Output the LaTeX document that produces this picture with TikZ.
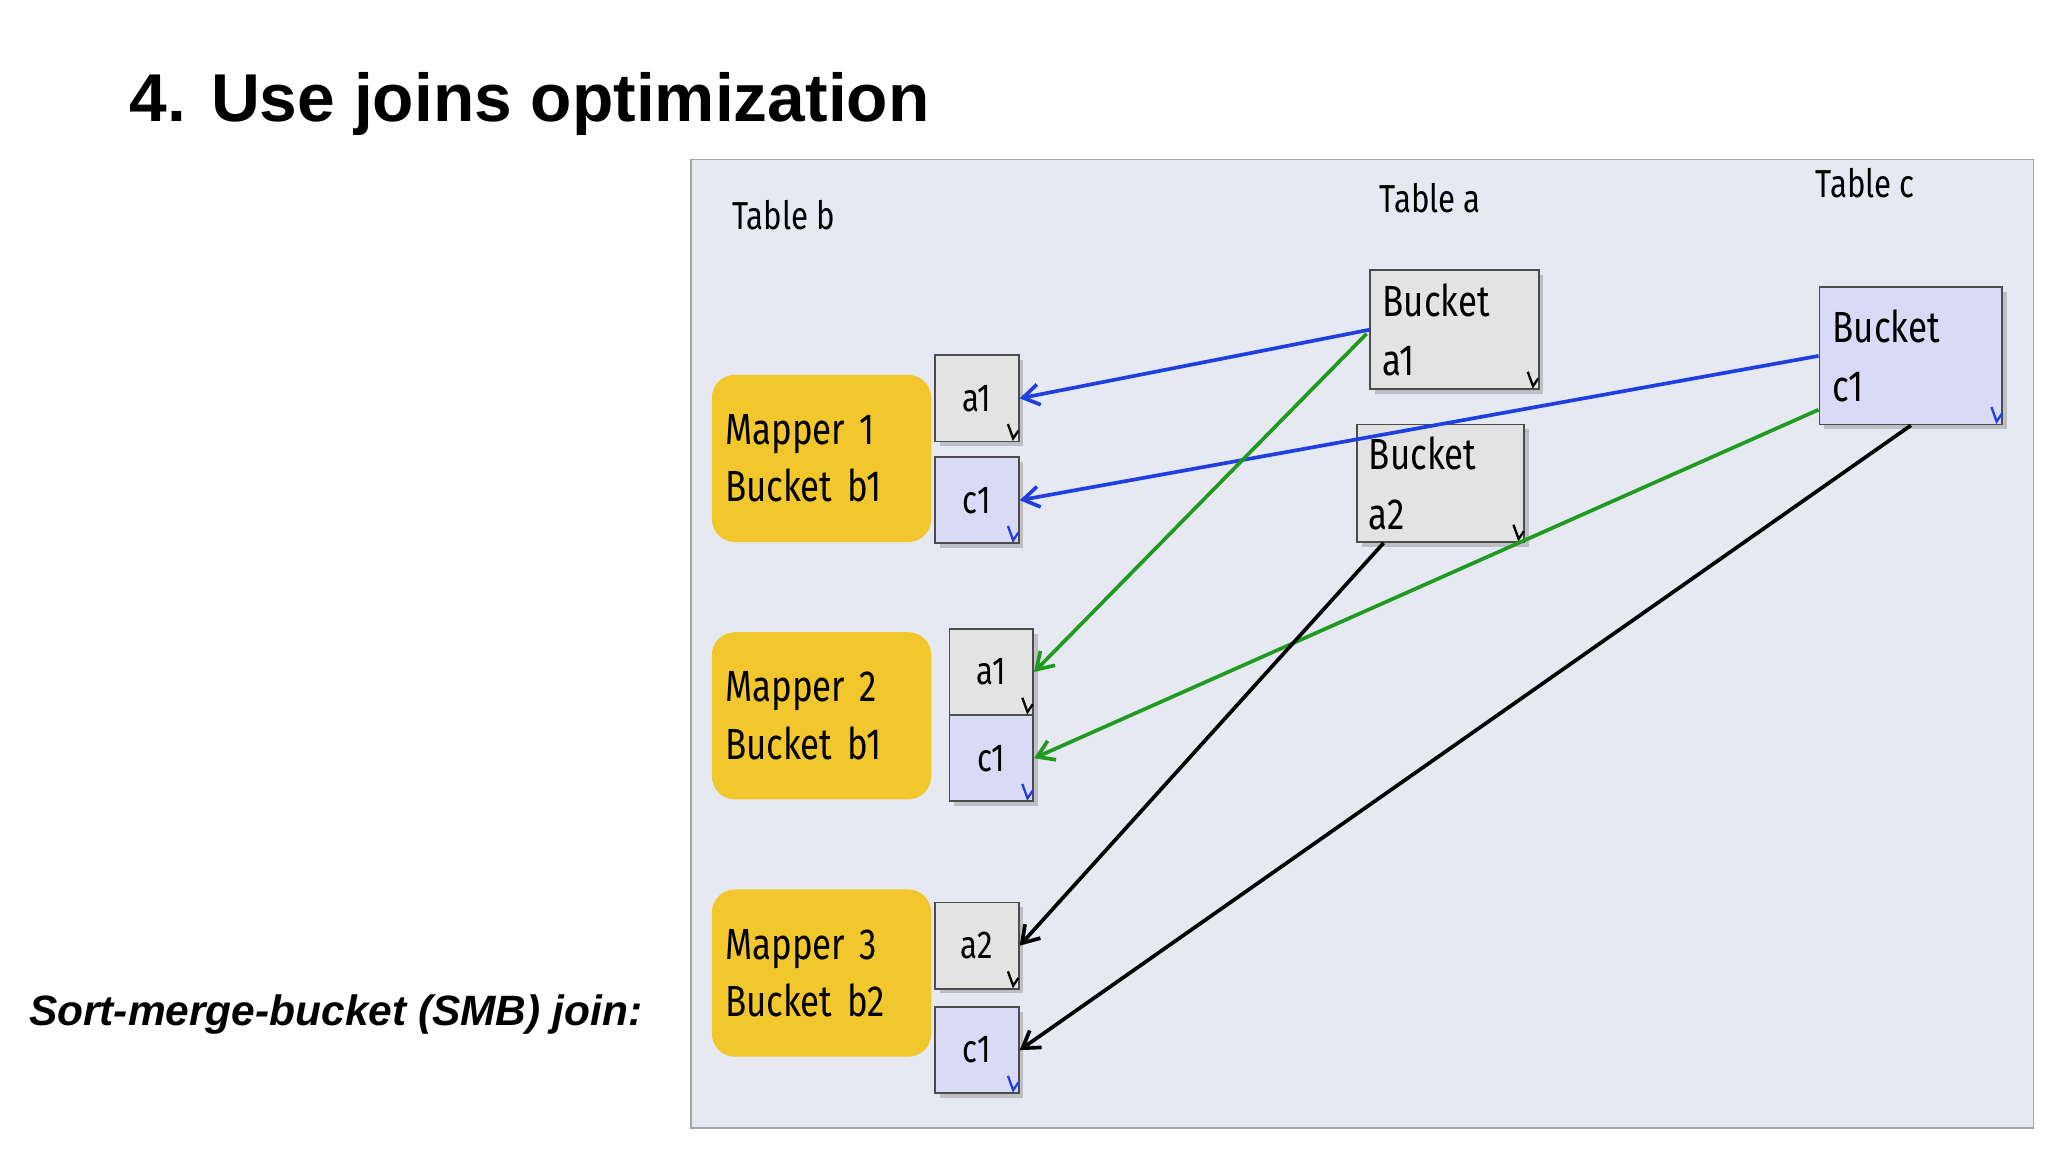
\documentclass[tikz,border=0pt]{standalone}
\usepackage{fontspec}
\setmainfont{Liberation Sans}
\newfontfamily\panelfont[FakeStretch=0.8]{Fira Sans}
\usetikzlibrary{arrows.meta,calc,shadows}
\definecolor{panelbg}{HTML}{E6E9F2}
\definecolor{mapy}{HTML}{F2C72E}
\definecolor{grayb}{HTML}{E3E3E3}
\definecolor{lavb}{HTML}{D9DAF5}
\definecolor{ablue}{HTML}{1F3FE0}
\definecolor{agreen}{HTML}{1E9A1E}
\tikzset{
  mapper/.style={fill=mapy,rounded corners=10pt,minimum width=3.36cm,minimum height=2.56cm,align=left,text width=2.95cm,font=\panelfont\fontsize{19}{25}\selectfont},
  small/.style={draw=black!70,line width=0.8pt,minimum width=1.28cm,minimum height=1.32cm,font=\panelfont\fontsize{17}{20}\selectfont,drop shadow={shadow xshift=2pt,shadow yshift=-2pt,opacity=0.4}},
  gbox/.style={small,fill=grayb},
  lbox/.style={small,fill=lavb},
  big/.style={draw=black!70,line width=0.8pt,align=left,font=\panelfont\fontsize{19}{26}\selectfont,drop shadow={shadow xshift=2pt,shadow yshift=-2pt,opacity=0.4}},
  conn/.style={line width=1.6pt,-{Straight Barb[length=7pt,width=9pt]}},
  lbl/.style={font=\panelfont\fontsize{17}{20}\selectfont}
}
\begin{document}
\begin{tikzpicture}[x=0.02cm,y=-0.02cm]
\useasboundingbox (0,0) rectangle (1568,882);
\node[anchor=base west,font=\bfseries\fontsize{29.5}{34}\selectfont] (title) at (93,93) {4. Use joins optimization};
\node[anchor=base west,font=\bfseries\itshape\fontsize{18.5}{22}\selectfont] (smb) at (16,785) {Sort-merge-bucket (SMB) join:};
\node[draw=black!35,fill=panelbg,line width=0.8pt,minimum width=20.56cm,minimum height=14.84cm] (panel) at (1043,493) {};
\node[lbl] (tb) at (600,165) {Table b};
\node[lbl] (ta) at (1095,152) {Table a};
\node[lbl] (tc) at (1428,140) {Table c};
\node[mapper] (m1) at (629,351) {Mapper 1\\Bucket b1};
\node[mapper] (m2) at (629,548) {Mapper 2\\Bucket b1};
\node[mapper] (m3) at (629,745) {Mapper 3\\Bucket b2};
\node[gbox] (m1a) at (748,305) {a1};
\node[lbox] (m1c) at (748,383) {c1};
\node[gbox] (m2a) at (759,514.5) {a1};
\node[lbox] (m2c) at (759,580.5) {c1};
\node[gbox] (m3a) at (748,724) {a2};
\node[lbox] (m3c) at (748,804) {c1};
\node[big,fill=grayb,minimum width=2.58cm,minimum height=1.82cm,text width=2.2cm] (ba1) at (1113.5,252.5) {Bucket\\a1};
\node[big,fill=grayb,minimum width=2.56cm,minimum height=1.8cm,text width=2.2cm] (ba2) at (1103,370) {Bucket\\a2};
\node[big,fill=lavb,minimum width=2.8cm,minimum height=2.1cm,text width=2.4cm] (bc1) at (1463,272.5) {Bucket\\c1};
\foreach \n/\c in {m1a/black,m2a/black,m3a/black,ba1/black,ba2/black,m1c/ablue,m2c/ablue,m3c/ablue,bc1/ablue}{
  \draw[\c,line width=1pt] ($(\n.south east)+(-9,-14)$) -- ($(\n.south east)+(-5,-3)$) -- ($(\n.south east)+(-1,-9)$);
}
\draw[conn,ablue] (ba1.west) -- (m1a.east);
\draw[conn,ablue] (bc1.west) -- (m1c.east);
\draw[conn,agreen] ($(ba1.west)+(-2,3)$) -- (m2a.east);
\draw[conn,agreen] ($(bc1.south west)+(0,-12)$) -- (m2c.east);
\draw[conn,black] ($(ba2.south west)+(21,0)$) -- (m3a.east);
\draw[conn,black] (bc1.south) -- (m3c.east);
\end{tikzpicture}
\end{document}
